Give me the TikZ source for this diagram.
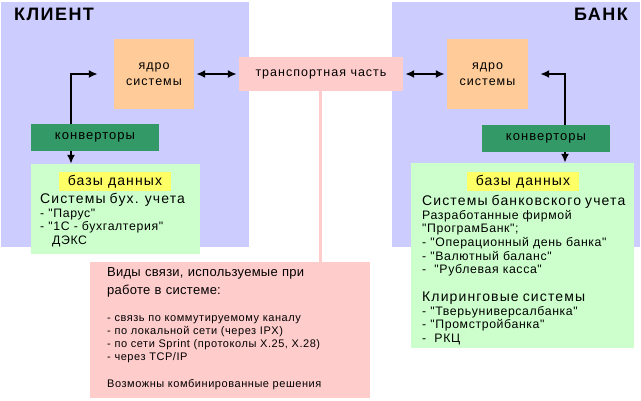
\documentclass[tikz,border=0pt]{standalone}
\usepackage{fontspec}
\setmainfont{Liberation Sans}[LetterSpace=8]
\newfontfamily\listfont{Liberation Sans}[LetterSpace=5]
\newfontfamily\infofont{Liberation Sans}[LetterSpace=2]
\usetikzlibrary{arrows.meta,positioning}
\definecolor{panelblue}{HTML}{CCCCFF}
\definecolor{coreorange}{HTML}{FFCC99}
\definecolor{transpink}{HTML}{FFCCCC}
\definecolor{convgreen}{HTML}{339966}
\definecolor{dbgreen}{HTML}{CCFFCC}
\definecolor{labelyellow}{HTML}{FFFF66}
\newcommand{\headsize}{\rmfamily\fontsize{14}{13.7}\selectfont}
\begin{document}
\begin{tikzpicture}[x=1pt,y=-1pt,>={Latex[length=9pt,width=8pt]},
	block/.style={inner sep=0pt,align=center,font=\fontsize{12.5}{16}\selectfont},
	panel/.style={block,fill=panelblue,minimum width=248,minimum height=245},
	core/.style={block,fill=coreorange,minimum height=70},
	conv/.style={block,fill=convgreen,minimum width=128,minimum height=27,font=\fontsize{13}{16}\selectfont},
	dbase/.style={block,fill=dbgreen},
	dblabel/.style={block,fill=labelyellow,minimum width=112,minimum height=19,font=\fontsize{14}{16}\selectfont},
	dbtext/.style={inner sep=0pt,anchor=north west,align=left,font=\listfont\fontsize{12.3}{13.7}\selectfont},
	title/.style={inner sep=0pt,font=\fontsize{18}{20}\selectfont\bfseries},
	link/.style={line width=2.2pt,shorten <=2pt,shorten >=2pt}]
	\useasboundingbox (0,0) rectangle (641,401);

	% two sides
	\node[panel] (client) at (125,124.5) {};
	\node[panel] (bank) at (516,124.5) {};
	\node[title,anchor=west] (clienttitle) at (14,14) {КЛИЕНТ};
	\node[title,anchor=east] (banktitle) at (628,14) {БАНК};

	\node[core,minimum width=80] (clcore) at (154,74) {ядро\\системы};
	\node[core,minimum width=81] (bkcore) at (487.5,74) {ядро\\системы};
	\node[block,fill=transpink,minimum width=164,minimum height=34] (transport) at (321,74) {транспортная часть};

	\node[conv] (clconv) at (95,137.5) {конверторы};
	\node[conv] (bkconv) at (546,138.5) {конверторы};

	% data bases
	\node[dbase,minimum width=169,minimum height=90] (cldb) at (115.5,209) {};
	\node[dbase,minimum width=223,minimum height=185] (bkdb) at (522.5,255.5) {};
	\node[dblabel] (cllabel) at (115,181.5) {базы данных};
	\node[dblabel] (bklabel) at (523,182) {базы данных};

	\node[dbtext,text width=160] (cltext) at (40,193) {{\headsize Системы бух. учета}\\
		- "Парус"\\
		- "1С - бухгалтерия"\\
		\hspace*{12pt}ДЭКС};
	\node[dbtext,text width=215] (bktext) at (422,195) {{\headsize Системы банковского учета}\\
		Разработанные фирмой\\
		"ПрограмБанк";\\
		- "Операционный день банка"\\
		- "Валютный баланс"\\
		-\ \ "Рублевая касса"\\[13.7pt]
		{\headsize Клиринговые системы}\\
		- "Тверьуниверсалбанка"\\
		- "Промстройбанка"\\
		-\ \ РКЦ};

	% kinds of links
	\node[block,fill=transpink,minimum width=280,minimum height=136] (info) at (230,330) {};
	\draw[transpink,line width=3pt] ([xshift=-1pt]transport.south) -- ([xshift=-1pt]transport.south |- info.north);
	\node[dbtext,text width=260,font=\infofont\fontsize{13}{18}\selectfont] (infohead) at (107,267) {Виды связи, используемые при\\работе в системе:};
	\node[dbtext,text width=260,font=\listfont\fontsize{11}{13.2}\selectfont] (infolist) at (107,315) {- связь по коммутируемому каналу\\
		- по локальной сети (через IPX)\\
		- по сети Sprint (протоколы X.25, X.28)\\
		- через TCP/IP\\[13.2pt]
		Возможны комбинированные решения};

	% arrows
	\draw[link,<->] (clcore) -- (transport);
	\draw[link,<->] (transport) -- (bkcore);
	\coordinate (clin) at ([xshift=-14pt]clcore.west);
	\coordinate (clup) at ([xshift=-24pt]clconv.north);
	\coordinate (cldown) at ([xshift=-24pt]clconv.south);
	\draw[link,->,shorten <=0pt] (clup) |- (clin);
	\draw[link,->,shorten <=0pt,shorten >=0pt] (cldown) -- (cldown |- cldb.north);
	\coordinate (bkin) at ([xshift=10pt]bkcore.east);
	\coordinate (bkup) at ([xshift=19pt]bkconv.north);
	\coordinate (bkdown) at ([xshift=19pt]bkconv.south);
	\draw[link,->,shorten <=0pt] (bkup) |- (bkin);
	\draw[link,->,shorten <=0pt,shorten >=0pt] (bkdown) -- (bkdown |- bkdb.north);
\end{tikzpicture}
\end{document}
